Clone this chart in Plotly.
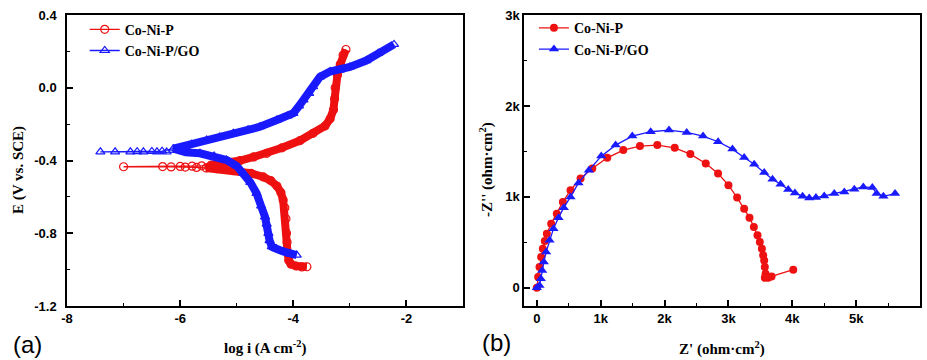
import plotly.graph_objects as go

# ---- Panel (a): Tafel curves (log i, E) ----
cnp_logi = [-3.76, -3.85, -3.95, -4.04, -4.08, -4.10, -4.11, -4.12, -4.13, -4.15, -4.18, -4.22,
            -4.29, -4.40, -4.53, -4.75, -5.06, -5.35, -5.54, -5.71, -5.91, -6.16, -7.00,
            -6.31, -6.00, -5.79, -5.62, -5.45, -5.30, -5.10, -4.94, -4.70, -4.47, -4.20,
            -3.88, -3.65, -3.44, -3.35, -3.29, -3.27, -3.26, -3.22, -3.17, -3.12, -3.07]
cnp_E = [-0.984, -0.985, -0.980, -0.970, -0.950, -0.910, -0.850, -0.800, -0.720, -0.660, -0.617, -0.575,
         -0.540, -0.510, -0.490, -0.470, -0.455, -0.445, -0.441, -0.438, -0.436, -0.435, -0.434,
         -0.433, -0.432, -0.431, -0.429, -0.425, -0.420, -0.410, -0.400, -0.380, -0.360, -0.330,
         -0.290, -0.250, -0.210, -0.170, -0.120, -0.060, 0.000, 0.070, 0.130, 0.180, 0.211]

go_logi = [-3.94, -4.05, -4.18, -4.30, -4.38, -4.42, -4.44, -4.47, -4.50, -4.57, -4.65, -4.76,
           -4.88, -5.00, -5.18, -5.40, -5.65, -5.90, -6.24, -6.41, -6.65, -6.88, -7.41,
           -7.15, -6.76, -6.50, -6.32, -6.12, -5.80, -5.53, -5.30, -5.06, -4.80, -4.59, -4.29, -4.10,
           -4.00, -3.90, -3.82, -3.72, -3.65, -3.53, -3.35, -3.18, -3.00, -2.71, -2.50, -2.22]
go_E = [-0.920, -0.915, -0.900, -0.885, -0.874, -0.840, -0.800, -0.750, -0.710, -0.650, -0.580, -0.520,
        -0.470, -0.430, -0.397, -0.375, -0.360, -0.355, -0.353, -0.352, -0.352, -0.352, -0.352,
        -0.352, -0.351, -0.350, -0.348, -0.335, -0.310, -0.287, -0.270, -0.250, -0.230, -0.214, -0.177, -0.155,
        -0.140, -0.100, -0.067, -0.030, 0.006, 0.060, 0.090, 0.097, 0.115, 0.150, 0.190, 0.239]

# ---- Panel (b): Nyquist plots (Z', -Z'') ----
cnp_zre = [0, 21, 42, 68, 94, 125, 157, 225, 313, 408, 528, 685, 868, 1103, 1354, 1615, 1887,
           2159, 2404, 2645, 2838, 3000, 3136, 3246, 3330, 3398, 3455, 3492, 3524, 3544, 3560,
           3570, 3581, 3570, 3622, 3675, 4015]
cnp_zim = [0, 118, 228, 338, 430, 515, 596, 706, 816, 945, 1074, 1202, 1313, 1430, 1515, 1559, 1570,
           1540, 1471, 1368, 1257, 1129, 993, 871, 772, 669, 577, 504, 430, 357, 301,
           228, 154, 110, 110, 125, 199]

go_zre = [0, 42, 63, 84, 110, 146, 199, 261, 340, 423, 528, 653, 815, 1009, 1234, 1495, 1783,
          2070, 2347, 2603, 2838, 3063, 3246, 3403, 3560, 3690, 3816, 3936, 4041, 4161, 4265,
          4370, 4500, 4657, 4814, 4971, 5112, 5253, 5321, 5426, 5609]
go_zim = [0, 26, 99, 191, 283, 393, 522, 651, 772, 882, 1000, 1154, 1294, 1449, 1570, 1669, 1717,
          1735, 1710, 1669, 1607, 1526, 1434, 1360, 1268, 1195, 1140, 1081, 1044, 1007, 989,
          993, 1011, 1037, 1055, 1085, 1110, 1103, 1037, 1007, 1037]

names = ["Co-Ni-P", "Co-Ni-P/GO"]
RED = "#ee1111"
BLUE = "#1a1aff"

serif = "Liberation Serif"
sans = "Liberation Sans"
W, H = 927, 360

fig = go.Figure()

# dense-data bands (the measured curves are so densely sampled they form thick bands)
def band(xs, ys, thr, color):
    bx, by = [], []
    for a, b in zip(xs, ys):
        if a >= thr:
            bx.append(a); by.append(b)
    return go.Scatter(x=bx, y=by, mode="lines", line=dict(color=color, width=8),
                      showlegend=False, hoverinfo="skip", xaxis="x", yaxis="y")

fig.add_trace(band(cnp_logi, cnp_E, -5.6, RED))
fig.add_trace(go.Scatter(x=cnp_logi, y=cnp_E, mode="lines+markers", name=names[0],
                         line=dict(color=RED, width=1.3),
                         marker=dict(symbol="circle-open", size=8, color=RED, line=dict(width=1.2)),
                         xaxis="x", yaxis="y", legend="legend"))
fig.add_trace(band(go_logi, go_E, -6.15, BLUE))
fig.add_trace(go.Scatter(x=go_logi, y=go_E, mode="lines+markers", name=names[1],
                         line=dict(color=BLUE, width=1.3),
                         marker=dict(symbol="triangle-up-open", size=8, color=BLUE, line=dict(width=1.2)),
                         xaxis="x", yaxis="y", legend="legend"))

fig.add_trace(go.Scatter(x=cnp_zre, y=cnp_zim, mode="lines+markers", name=names[0],
                         line=dict(color=RED, width=1.3),
                         marker=dict(symbol="circle", size=8, color=RED),
                         xaxis="x2", yaxis="y2", legend="legend2"))
fig.add_trace(go.Scatter(x=go_zre, y=go_zim, mode="lines+markers", name=names[1],
                         line=dict(color=BLUE, width=1.3),
                         marker=dict(symbol="triangle-up", size=9, color=BLUE),
                         xaxis="x2", yaxis="y2", legend="legend2"))

tickfont = dict(family=sans, size=13, color="black", weight="bold")
common = dict(showline=True, linecolor="black", linewidth=1.5, mirror=True, ticks="inside",
              ticklen=6, tickwidth=1.5, tickcolor="black", showgrid=False, zeroline=False,
              tickfont=tickfont, automargin=False)
minor_style = dict(ticks="inside", ticklen=3, tickcolor="black", tickwidth=1.2)

def px(x, y):
    return x / W, 1 - y / H

title_font = dict(family=serif, size=15, color="black", weight="bold")
ann_specs = [
    ("log i (A cm<sup>-2</sup>)", 265, 347, 0, title_font),
    ("E (V vs. SCE)", 18, 170, -90, title_font),
    ("Z' (ohm·cm<sup>2</sup>)", 722, 348, 0, title_font),
    ("-Z'' (ohm·cm<sup>2</sup>)", 486, 170, -90, title_font),
    ("(a)", 27, 344, 0, dict(family=sans, size=24, color="black")),
    ("(b)", 496, 342, 0, dict(family=sans, size=24, color="black")),
]
annotations = []
for text, ax_, ay_, ang, fnt in ann_specs:
    fx, fy = px(ax_, ay_)
    annotations.append(dict(text=text, x=fx, y=fy, xref="paper", yref="paper",
                            xanchor="center", yanchor="middle", textangle=ang,
                            showarrow=False, font=fnt))

legend_font = dict(family=serif, size=14, color="black", weight="bold")

fig.update_layout(
    width=W, height=H, margin=dict(l=0, r=0, t=0, b=0, autoexpand=False),
    paper_bgcolor="white", plot_bgcolor="white",
    xaxis=dict(domain=[0.0723, 0.4995], range=[-8, -1], anchor="y",
               tickvals=[-8, -6, -4, -2], ticktext=["-8", "-6", "-4", "-2"],
               minor=dict(tickvals=[-7, -5, -3], **minor_style), **common),
    yaxis=dict(domain=[0.15, 0.958], range=[-1.2, 0.4], anchor="x",
               tickvals=[-1.2, -0.8, -0.4, 0.0, 0.4], ticktext=["-1.2", "-0.8", "-0.4", "0.0", "0.4"],
               minor=dict(tickvals=[-1.0, -0.6, -0.2, 0.2], **minor_style),
               ticklabelstandoff=6, **common),
    xaxis2=dict(domain=[0.5653, 0.9925], range=[-200, 6000], anchor="y2",
                tickvals=[0, 1000, 2000, 3000, 4000, 5000, 6000],
                ticktext=["0", "1k", "2k", "3k", "4k", "5k", "6k"],
                minor=dict(tickvals=[500, 1500, 2500, 3500, 4500, 5500], **minor_style), **common),
    yaxis2=dict(domain=[0.15, 0.958], range=[-200, 3000], anchor="x2",
                tickvals=[0, 1000, 2000, 3000], ticktext=["0", "1k", "2k", "3k"],
                minor=dict(tickvals=[500, 1500, 2500], **minor_style), **common),
    legend=dict(x=0.0914, y=0.962, xanchor="left", yanchor="top", bgcolor="rgba(0,0,0,0)",
                font=legend_font, tracegroupgap=0, itemwidth=30),
    legend2=dict(x=0.576, y=0.966, xanchor="left", yanchor="top", bgcolor="rgba(0,0,0,0)",
                 font=legend_font, tracegroupgap=0, itemwidth=30),
    annotations=annotations,
)

fig.write_html("out.html")
